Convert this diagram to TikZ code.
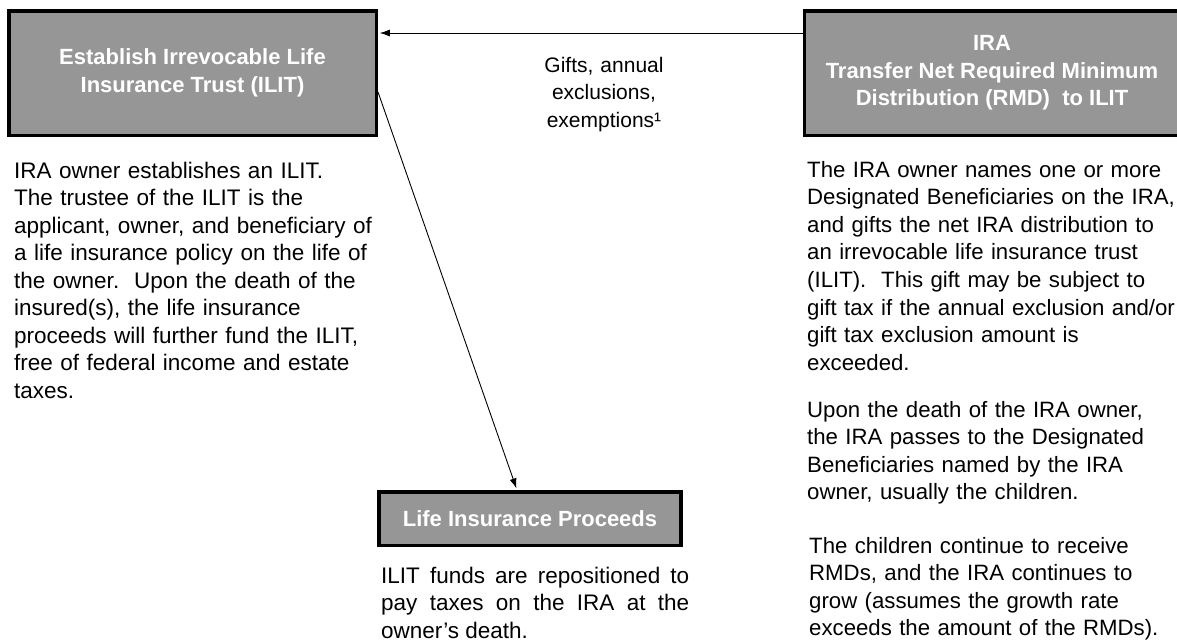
\documentclass[tikz,border=0pt]{standalone}
\usepackage{fontspec}
\setmainfont{Liberation Sans}
\usetikzlibrary{arrows.meta}

\definecolor{boxgray}{RGB}{150,150,150}
\newcommand{\bodyfont}{\fontsize{22.5}{27.5}\selectfont}
\newcommand{\titlefont}{\bfseries\fontsize{22}{27.5}\selectfont}

\begin{document}
\begin{tikzpicture}[x=1pt, y=-1pt,
    titlebox/.style = {draw=black, line width=3.5pt, fill=boxgray, text=white,
                       font=\titlefont, align=center, inner sep=0pt},
    bodytext/.style = {font=\bodyfont, text width=362pt, align=left,
                       inner sep=0pt, anchor=base west},
    flow/.style     = {line width=0.9pt, -{Latex[length=10pt,width=7pt]}},
  ]
  \useasboundingbox (0,0) rectangle (1177,641);

  % the three grey boxes
  \node[titlebox, minimum width=367.5pt, minimum height=124.5pt] (ilit) at (192.5,73)
    {Establish Irrevocable Life\\Insurance Trust (ILIT)};
  \node[titlebox, minimum width=375pt, minimum height=124.5pt] (ira) at (992,73)
    {IRA\\Transfer Net Required Minimum\\Distribution (RMD)\ \ to ILIT};
  \node[titlebox, minimum width=302pt, minimum height=53.5pt] (proceeds) at (530,518.5)
    {Life Insurance Proceeds};

  % label on the gift arrow
  \node[font=\fontsize{21}{27.5}\selectfont, text width=200pt, align=center,
        inner sep=0pt, anchor=base] (gifts) at (604,72)
    {Gifts, annual\\exclusions,\\exemptions¹};

  % texts under the boxes
  \node[bodytext] (ilittext) at (14,178)
    {IRA owner establishes an ILIT.\\
     The trustee of the ILIT is the\\
     applicant, owner, and beneficiary of\\
     a life insurance policy on the life of\\
     the owner.\ \ Upon the death of the\\
     insured(s), the life insurance\\
     proceeds will further fund the ILIT,\\
     free of federal income and estate\\
     taxes.};
  \begin{scope}[bodytext/.append style={font=\fontsize{22.2}{27.6}\selectfont, text width=368pt}]
    \node[bodytext] (iratext) at (807,177)
      {The IRA owner names one or more\\
       Designated Beneficiaries on the IRA,\\
       and gifts the net IRA distribution to\\
       an irrevocable life insurance trust\\
       (ILIT).\ \ This gift may be subject to\\
       gift tax if the annual exclusion and/or\\
       gift tax exclusion amount is\\
       exceeded.};
    \node[bodytext] (deathtext) at (807,417)
      {Upon the death of the IRA owner,\\
       the IRA passes to the Designated\\
       Beneficiaries named by the IRA\\
       owner, usually the children.};
    \node[bodytext] (rmdtext) at (809,553)
      {The children continue to receive\\
       RMDs, and the IRA continues to\\
       grow (assumes the growth rate\\
       exceeds the amount of the RMDs).};
  \end{scope}
  \node[bodytext, text width=308pt, align=justify] (proctext) at (381,583)
    {ILIT funds are repositioned to\linebreak
     pay taxes on the IRA at the\linebreak
     owner's death.};

  % connectors
  \draw[flow, shorten >=1.75pt] ([yshift=-24pt]ira.north west) -- ([yshift=-24pt]ilit.north east);
  \draw[flow, shorten >=1.75pt] ([yshift=-19pt]ilit.east) -- ([xshift=-13pt]proceeds.north);

\end{tikzpicture}
\end{document}
